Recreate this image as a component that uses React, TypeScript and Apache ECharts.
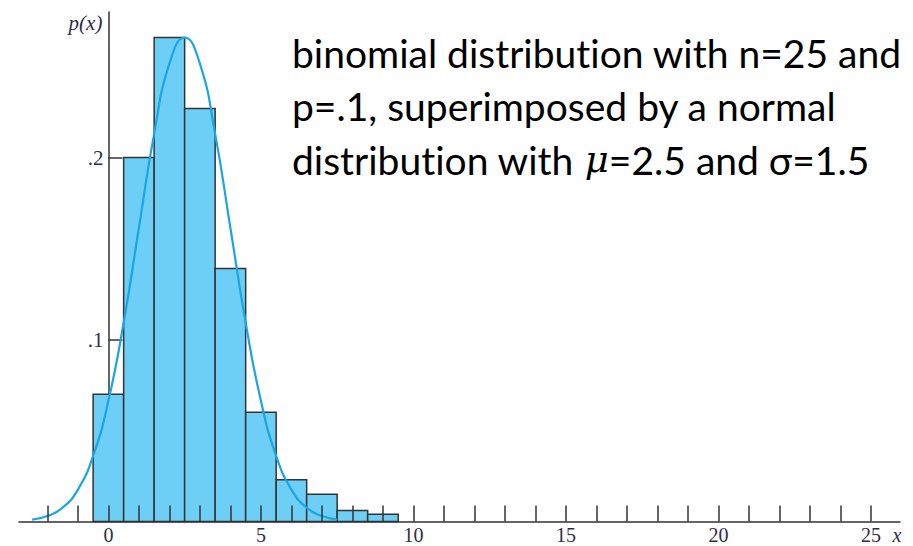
import React, { useEffect, useRef } from 'react';
import * as echarts from 'echarts';

// Binomial probabilities (n=25, p=.1)
const binomX = [0, 1, 2, 3, 4, 5, 6, 7, 8, 9];
const binomP = [0.070, 0.200, 0.266, 0.227, 0.139, 0.060, 0.023, 0.015, 0.006, 0.004];

// Normal curve (mu=2.5, sigma=1.5)
const normalX = [-2.5, -2, -1.5, -1, -0.5, 0, 0.5, 1, 1.5, 2, 2.5, 3, 3.5, 4, 4.5, 5, 5.5, 6, 6.5, 7, 7.5];
const normalY = [0.001, 0.003, 0.0076, 0.0175, 0.036, 0.0663, 0.1093, 0.1613, 0.213, 0.2516, 0.266, 0.2516, 0.213, 0.1613, 0.1093, 0.0663, 0.036, 0.0175, 0.0076, 0.003, 0.001];

const xTickValues = [-2, -1, 0, 1, 2, 3, 4, 5, 6, 7, 8, 9, 10, 11, 12, 13, 14, 15, 16, 17, 18, 19, 20, 21, 22, 23, 24, 25];
const xLabelValues = [0, 5, 10, 15, 20, 25];
const yTickValues = [0.1, 0.2];
const yLabelTexts = ['.1', '.2'];

const X_MIN = -2.93;
const X_MAX = 25.95;

const titleLines = [
  'binomial distribution with n=25 and',
  'p=.1, superimposed by a normal',
  'distribution with {mu|μ}=2.5 and σ=1.5',
];

export default function App() {
  const ref = useRef<HTMLDivElement>(null);
  useEffect(() => {
    document.body.style.margin = '0';
    if (!ref.current) return;
    const chart = echarts.init(ref.current, undefined, { renderer: 'svg' });
    const axisColor = '#2d2d48';
    const labelFont = 'Liberation Serif';
    const gridLeft = 19;
    const gridRight = 13;
    const plotWidth = 913 - gridLeft - gridRight;
    // y axis sits at x = 0
    const yOffset = -((0 - X_MIN) / (X_MAX - X_MIN)) * plotWidth;
    chart.setOption({
      animation: false,
      grid: { left: gridLeft, right: gridRight, top: 12, bottom: 24.5, outerBoundsMode: 'none', containLabel: false },
      xAxis: {
        type: 'value',
        min: X_MIN,
        max: X_MAX,
        z: 5,
        name: 'x',
        nameLocation: 'end',
        nameGap: -3,
        nameTextStyle: {
          fontFamily: labelFont,
          fontStyle: 'italic',
          fontSize: 20,
          lineHeight: 17,
          color: axisColor,
          align: 'center',
          verticalAlign: 'top',
          padding: [5, 0, 0, 0],
        },
        axisLine: { show: true, onZero: false, lineStyle: { color: '#333', width: 1.5 } },
        axisTick: {
          show: true,
          inside: true,
          length: 16,
          customValues: xTickValues,
          lineStyle: { color: '#333', width: 1.5 },
        },
        axisLabel: {
          customValues: xLabelValues,
          fontFamily: labelFont,
          fontSize: 20,
          lineHeight: 17,
          color: axisColor,
          margin: 5,
        },
        splitLine: { show: false },
      },
      yAxis: {
        type: 'value',
        min: 0,
        max: 0.28,
        z: 0,
        offset: yOffset,
        name: 'p(x)',
        nameLocation: 'end',
        nameGap: 0,
        nameTextStyle: {
          fontFamily: labelFont,
          fontStyle: 'italic',
          fontSize: 21,
          color: axisColor,
          align: 'right',
          verticalAlign: 'top',
          padding: [0, 6, 0, 0],
        },
        axisLine: { show: true, onZero: false, lineStyle: { color: '#333', width: 1.5 } },
        axisTick: {
          show: true,
          inside: true,
          length: 14,
          customValues: yTickValues,
          lineStyle: { color: '#333', width: 1.5 },
        },
        axisLabel: {
          customValues: yTickValues,
          formatter: (v: number) => {
            const i = yTickValues.findIndex((t) => Math.abs(t - v) < 1e-9);
            return i >= 0 ? yLabelTexts[i] : '';
          },
          fontFamily: labelFont,
          fontSize: 21,
          color: axisColor,
          margin: 5,
        },
        splitLine: { show: false },
      },
      series: [
        {
          type: 'custom',
          z: 2,
          data: binomX.map((x, i) => [x, binomP[i]]),
          renderItem: (params: any, api: any) => {
            const x = api.value(0);
            const y = api.value(1);
            const p0 = api.coord([x - 0.5, y]);
            const p1 = api.coord([x + 0.5, 0]);
            return {
              type: 'rect',
              shape: { x: p0[0], y: p0[1], width: p1[0] - p0[0], height: p1[1] - p0[1] },
              style: { fill: '#6dcff6', stroke: '#333', lineWidth: 1.5 },
            };
          },
        },
        {
          type: 'line',
          z: 3,
          smooth: true,
          showSymbol: false,
          data: normalX.map((x, i) => [x, normalY[i]]),
          lineStyle: { color: '#1ba6e3', width: 2.2 },
        },
      ],
      graphic: [
        {
          type: 'text',
          left: 292,
          top: 26,
          style: {
            text: titleLines.join('\n'),
            fontFamily: 'Lato',
            fontSize: 39,
            lineHeight: 53.5,
            fill: '#000',
            rich: {
              mu: {
                fontFamily: 'DejaVu Serif',
                fontStyle: 'italic',
                fontSize: 37,
                lineHeight: 53.5,
                fill: '#000',
              },
            },
          },
        },
      ],
    });
    return () => chart.dispose();
  }, []);
  return (
    <>
      <style>{`svg text, svg tspan { font-variant-ligatures: none !important; font-feature-settings: "liga" 0, "clig" 0 !important; }`}</style>
      <div ref={ref} style={{ width: 913, height: 546 }} />
    </>
  );
}
